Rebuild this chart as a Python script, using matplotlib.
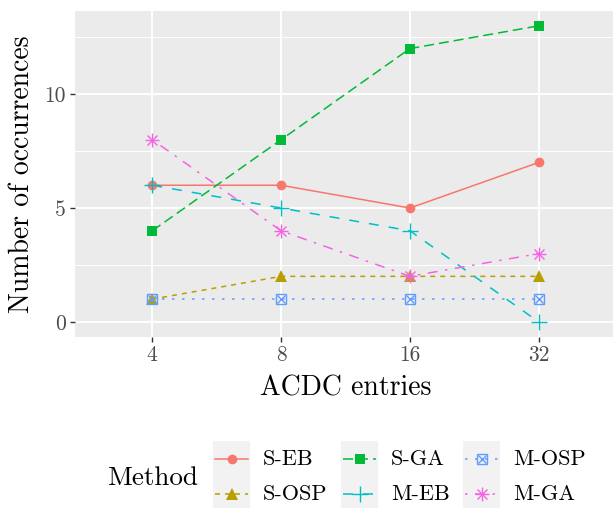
import matplotlib
matplotlib.use("Agg")
import matplotlib.pyplot as plt
from matplotlib.patches import Rectangle

plt.rcParams["font.family"] = ["cmr10", "DejaVu Serif"]
plt.rcParams["axes.formatter.use_mathtext"] = True
plt.rcParams["lines.scale_dashes"] = False

# données
entries = ["4", "8", "16", "32"]
methods = ["S-EB", "S-OSP", "S-GA", "M-EB", "M-OSP", "M-GA"]
s_eb = [6, 6, 5, 7]
s_osp = [1, 2, 2, 2]
s_ga = [4, 8, 12, 13]
m_eb = [6, 5, 4, 0]
m_osp = [1, 1, 1, 1]
m_ga = [8, 4, 2, 3]
values = [s_eb, s_osp, s_ga, m_eb, m_osp, m_ga]

colors = ["#F8766D", "#B79F00", "#00BA38", "#00BFC4", "#619CFF", "#F564E3"]
markers = ["o", "^", "s", "+", "boxx", "*"]
msizes = [7, 8, 7, 11, 9, 10]
u = 1.8
dashes = [
    "-",
    (0, (2 * u, 2 * u)),
    (0, (4 * u, 2 * u)),
    (0, (4 * u, 4 * u)),
    (0, (1 * u, 3 * u)),
    (0, (1 * u, 3 * u, 4 * u, 3 * u)),
]

W, H = 613, 509
fig = plt.figure(figsize=(W / 100, H / 100), dpi=100)
ax = fig.add_axes([75 / W, 1 - 336.7 / H, 541 / W, 325.7 / H])
ax.set_facecolor("#EBEBEB")

x = list(range(1, len(entries) + 1))


def draw_marker(axis, xx, yy, i, **kw):
    if markers[i] == "*":
        # astérisque façon ggplot (shape 8) : plus + croix
        axis.plot(xx, yy, ls="none", marker="+", ms=msizes[i], mew=1.0,
                  color=colors[i], **kw)
        axis.plot(xx, yy, ls="none", marker="x", ms=msizes[i] * 0.75, mew=1.0,
                  color=colors[i], **kw)
    elif markers[i] == "boxx":
        axis.plot(xx, yy, ls="none", marker="s", ms=7.5, mfc="none", mew=1.0,
                  color=colors[i], **kw)
        axis.plot(xx, yy, ls="none", marker="x", ms=5.5, mew=1.0,
                  color=colors[i], **kw)
    elif markers[i] == "+":
        axis.plot(xx, yy, ls="none", marker="+", ms=msizes[i], mew=1.0,
                  color=colors[i], **kw)
    else:
        axis.plot(xx, yy, ls="none", marker=markers[i], ms=msizes[i], mew=0,
                  color=colors[i], **kw)


for i, name in enumerate(methods):
    ax.plot(x, values[i], color=colors[i], lw=1.1, ls=dashes[i], zorder=3)
    draw_marker(ax, x, values[i], i, zorder=4)

ax.set_xlim(0.4, 4.6)
ax.set_ylim(-0.65, 13.65)
ax.set_xticks(x)
ax.set_xticklabels(entries)
ax.set_yticks([0, 5, 10])
ax.set_yticklabels(["0", "5", "10"])
ax.set_yticks([2.5, 7.5, 12.5], minor=True)
ax.grid(True, which="major", color="white", lw=1.4)
ax.grid(True, which="minor", axis="y", color="white", lw=0.7)
ax.set_axisbelow(True)
for s in ax.spines.values():
    s.set_visible(False)
ax.tick_params(which="major", length=3.5, width=1.0, color="#333333",
               labelcolor="#4D4D4D", labelsize=15.5, pad=3)
ax.tick_params(which="minor", length=0)

ax.set_xlabel("ACDC entries", fontsize=20, labelpad=7)
ax.set_ylabel("Number of occurrences", fontsize=20, labelpad=7)

# légende en bas, construite à la main (coordonnées en pixels)
key_x = [213, 341, 463]
row_y = [459, 494]
kw = 37
lax = fig.add_axes([0, 0, 1, 1], facecolor="none")
lax.set_xlim(0, W)
lax.set_ylim(H, 0)
lax.axis("off")
lax.text(107, 478, "Method", fontsize=19.5, va="center", ha="left")
for c in range(3):
    lax.add_patch(Rectangle((key_x[c], 441), kw, 67, facecolor="#F2F2F2",
                            edgecolor="none", zorder=1))
for i, name in enumerate(methods):
    c, r = i // 2, i % 2
    x0 = key_x[c]
    yy = row_y[r]
    lax.plot([x0 + 2, x0 + kw - 2], [yy, yy], color=colors[i], lw=1.1,
             ls=dashes[i], zorder=2)
    draw_marker(lax, [x0 + kw / 2], [yy], i, zorder=3)
    lax.text(x0 + 50, yy, name, fontsize=16, va="center", ha="left")

fig.savefig("out.png", dpi=100)
